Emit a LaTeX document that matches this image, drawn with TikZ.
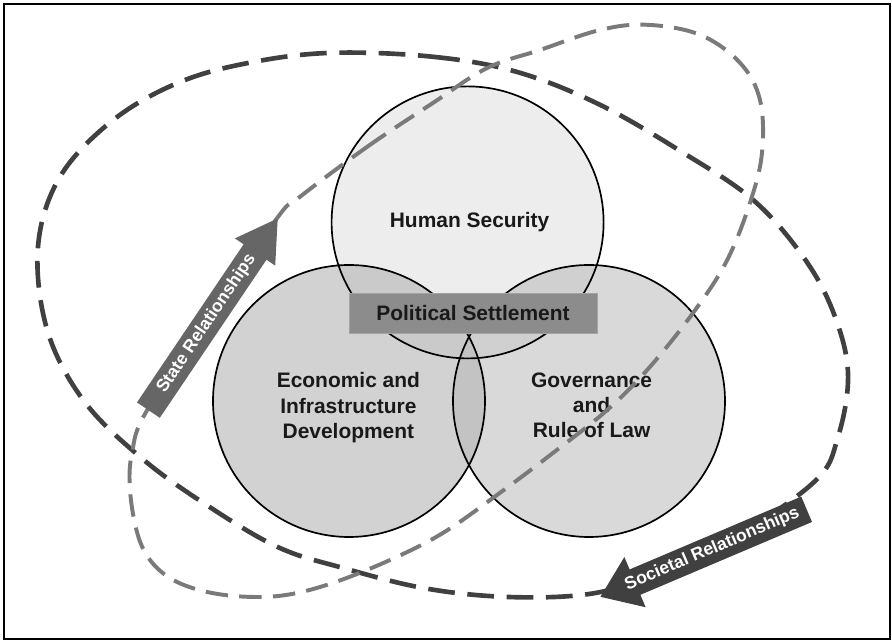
\documentclass[tikz,border=0pt]{standalone}
\usepackage{fontspec}
\setmainfont{Liberation Sans}
\usepackage{tikz}
\usetikzlibrary{shapes,arrows,calc,positioning}
\tikzset{>=latex}
\definecolor{hsfill}{HTML}{EDEDED}
\definecolor{ecfill}{HTML}{D2D2D2}
\definecolor{gvfill}{HTML}{D9D9D9}
\definecolor{hsecfill}{HTML}{CACACA}
\definecolor{hsgvfill}{HTML}{D0D0D0}
\definecolor{ecgvfill}{HTML}{C3C3C3}
\definecolor{settlefill}{HTML}{8C8C8C}
\definecolor{darkloop}{HTML}{404040}
\definecolor{lightloop}{HTML}{7A7A7A}
\definecolor{stategray}{HTML}{666666}
\tikzset{
  ring/.style={draw=black, line width=1.2pt},
  pillartext/.style={font=\fontsize{14.9}{17.8}\selectfont\bfseries, align=center, text=black!90},
  settlebox/.style={rectangle, fill=settlefill, draw=settlefill!80!white, line width=0.6pt,
    minimum width=6.2cm, minimum height=1cm, inner sep=0pt},
  darkdash/.style={draw=darkloop, line width=3.3pt, dash pattern=on 19pt off 9pt},
  lightdash/.style={draw=lightloop, line width=2.8pt, dash pattern=on 16pt off 8pt},
  relarrow/.style={single arrow, draw=none, text=white, inner xsep=4pt, inner ysep=3.8pt,
    text height=9pt, text depth=2.6pt, font=\fontsize{12.5}{14}\selectfont\bfseries}
}
\def\rad{3.4}

\begin{document}
\begin{tikzpicture}
\useasboundingbox (0,0) rectangle (22.3,16.05);
\draw[line width=2pt] (0.1,0.075) rectangle (22.25,15.95);

\coordinate (hs) at (11.69,10.49);
\coordinate (ec) at (8.725,6.025);
\coordinate (gv) at (14.725,6.025);

\fill[hsfill] (hs) circle (\rad);
\fill[ecfill] (ec) circle (\rad);
\fill[gvfill] (gv) circle (\rad);
\begin{scope}
\clip (hs) circle (\rad);
\fill[hsecfill] (ec) circle (\rad);
\fill[hsgvfill] (gv) circle (\rad);
\end{scope}
\begin{scope}
\clip (ec) circle (\rad);
\fill[ecgvfill] (gv) circle (\rad);
\end{scope}
\draw[ring] (hs) circle (\rad);
\draw[ring] (ec) circle (\rad);
\draw[ring] (gv) circle (\rad);

\node[pillartext, anchor=base] (hstext) at (11.74,10.35) {Human Security};
\node[pillartext] (ectext) at (8.71,5.86) {Economic and\\Infrastructure\\Development};
\node[pillartext] (gvtext) at (14.79,5.92) {Governance\\and\\Rule of Law};

\draw[darkdash] plot[smooth cycle, tension=0.6] coordinates {
  (8.33,14.73) (10.83,14.63) (12.93,14.25) (15.0,13.43) (17.08,12.23) (18.83,11.05)
  (20.08,9.63) (20.83,8.25) (21.2,6.73) (20.95,5.13) (20.33,3.98) (18.0,2.39)
  (16.0,1.55) (14.58,1.18) (12.58,1.13) (10.58,1.35) (8.58,1.85) (6.93,2.38)
  (5.08,3.48) (3.5,4.63) (2.08,6.05) (1.18,7.8) (0.95,9.88) (1.5,11.63)
  (2.83,13.05) (4.5,14.0) (6.33,14.5)};
\draw[lightdash] plot[smooth cycle, tension=0.6] coordinates {
  (7.5,11.13) (9.18,12.38) (10.83,13.48) (12.18,14.35) (13.5,14.8) (15.0,15.3)
  (16.18,15.43) (17.5,15.18) (18.5,14.48) (19.0,13.55) (19.05,12.23) (18.75,10.98)
  (18.18,9.55) (17.38,8.3) (16.25,6.88) (15.18,5.8) (13.83,4.73) (12.5,3.73)
  (11.08,2.73) (9.75,2.05) (8.33,1.48) (7.18,1.18) (6.18,1.13) (5.18,1.25)
  (4.33,1.55) (3.75,2.05) (3.43,2.73) (3.25,3.8) (3.3,4.73) (3.68,5.8)
  (5.38,8.3) (6.93,10.6)};

\node[settlebox, pillartext] (ps) at (11.825,8.225) {Political Settlement};

\node[relarrow, fill=stategray, rotate=56, single arrow tip angle=62,
  single arrow head extend=7.5pt, minimum height=5.78cm, anchor=tip] (state) at (6.95,10.6) {State Relationships};
\node[relarrow, fill=darkloop, shape border rotate=180, rotate=23, single arrow tip angle=72,
  single arrow head extend=9.6pt, minimum height=5.6cm, anchor=tip] (societal) at (15.0,1.125) {Societal Relationships};
\end{tikzpicture}
\end{document}
